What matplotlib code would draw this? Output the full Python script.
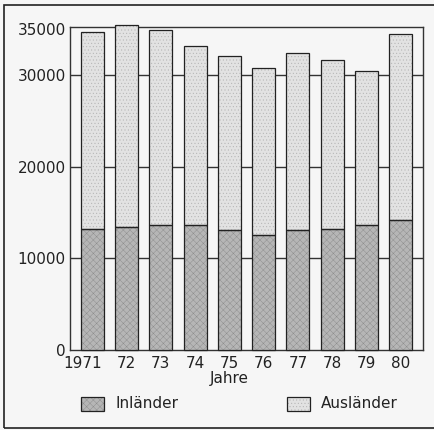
import numpy as np
import matplotlib
matplotlib.use('Agg')
import matplotlib.pyplot as plt
from matplotlib.patches import Rectangle
from matplotlib.transforms import ScaledTranslation

### Data
years     = ['1971', '72', '73', '74', '75', '76', '77', '78', '79', '80']
inlaender = [13250, 13420, 13600, 13640, 13050, 12580, 13130, 13200, 13640, 14220]
total     = [34650, 35500, 34900, 33180, 32060, 30820, 32420, 31650, 30490, 34460]
auslaender = [t - i for t, i in zip(total, inlaender)]

c_in  = '#b6b6b6'
c_aus = '#e2e2e2'
bg    = '#f6f6f6'
ink   = '#222222'

plt.rcParams['hatch.linewidth'] = 0.3
plt.rcParams['font.family'] = 'DejaVu Sans'
fs = 11

fig = plt.figure(figsize=(4.34, 4.30), dpi=100, facecolor=bg)
ax = fig.add_axes([70/434, 1 - 350/430, 353/434, 323/430])
ax.set_facecolor(bg)

x = np.arange(len(years))
w = 0.67
# fill + stipple, then the outline on top
ax.bar(x, inlaender, width=w, color=c_in, edgecolor='#8a8a8a', linewidth=0,
       hatch='xxxxx', zorder=3, clip_on=False)
ax.bar(x, auslaender, bottom=inlaender, width=w, color=c_aus, edgecolor='#b0b0b0',
       linewidth=0, hatch='.....', zorder=3, clip_on=False)
ax.bar(x, inlaender, width=w, color='none', edgecolor=ink, linewidth=0.9, zorder=4, clip_on=False)
ax.bar(x, auslaender, bottom=inlaender, width=w, color='none', edgecolor=ink,
       linewidth=0.9, zorder=4, clip_on=False)

ax.set_xlim(-0.65, 9.65)
ax.set_ylim(0, 35250)
ax.set_yticks([0, 10000, 20000, 30000, 35000])
ax.set_yticklabels(['0', '10000', '20000', '30000', '35000'], fontsize=fs, color=ink)
ax.set_xticks(x)
ax.set_xticklabels(years, fontsize=fs, color=ink)
ax.tick_params(axis='both', length=0, pad=3)
ax.tick_params(axis='x', pad=4)
# the first year label sits a bit to the left of its bar
lab0 = ax.get_xticklabels()[0]
lab0.set_transform(lab0.get_transform() + ScaledTranslation(-10/100, 0, fig.dpi_scale_trans))

for v in [10000, 20000, 30000]:
    ax.axhline(v, color='#333333', linewidth=1.0, zorder=1)
for s in ax.spines.values():
    s.set_linewidth(1.0)
    s.set_color('#333333')
    s.set_zorder(2)

fig.text(229/434, 1 - 379/430, 'Jahre', ha='center', va='center', fontsize=fs, color=ink)

# legend, laid out as in the original
for px, label, col, hc, h in [(81, 'Inländer', c_in, '#8a8a8a', 'xxxxx'),
                              (287, 'Ausländer', c_aus, '#b0b0b0', '.....')]:
    fig.patches.append(Rectangle((px/434, 1 - 411/430), 23/434, 14/430, transform=fig.transFigure,
                                 facecolor=col, edgecolor=hc, linewidth=0, hatch=h))
    fig.patches.append(Rectangle((px/434, 1 - 411/430), 23/434, 14/430, transform=fig.transFigure,
                                 facecolor='none', edgecolor=ink, linewidth=0.9))
    fig.text((px + 34)/434, 1 - 404/430, label, ha='left', va='center', fontsize=fs, color=ink)

# outer frame
fig.patches.append(Rectangle((4/434, 1 - 428/430), 440/434, 423/430, transform=fig.transFigure,
                             facecolor='none', edgecolor=ink, linewidth=1.2))

fig.savefig('out.png', dpi=100, facecolor=bg)
